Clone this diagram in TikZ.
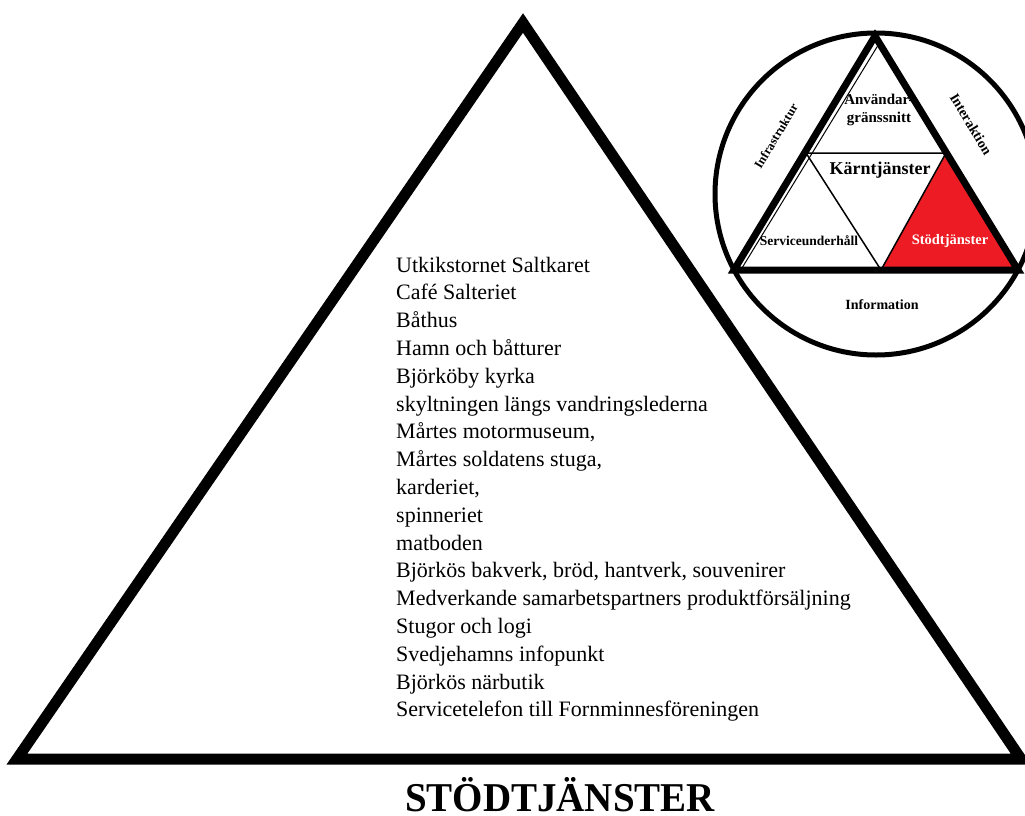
\documentclass[tikz,border=0pt]{standalone}
\usepackage{fontspec}
\setmainfont{Liberation Serif}
\usetikzlibrary{calc}
\definecolor{redfill}{RGB}{237,28,36}
\begin{document}
\begin{tikzpicture}[x=1pt,y=-1pt,
  bigtri/.style={line width=11pt, line join=miter},
  innertri/.style={line width=7pt, line join=miter},
  thinline/.style={line width=1.5pt},
  listitem/.style={anchor=base west, inner sep=0pt, font=\fontsize{22}{26}\selectfont},
  smalllbl/.style={inner sep=0pt, font=\bfseries\fontsize{#1}{#1}\selectfont},
  smalllbl/.default=14]
\useasboundingbox (0,0) rectangle (1025,816);
\fill[white] (0,0) rectangle (1025,816);
% big triangle
\coordinate (A) at (523,23);
\coordinate (BL) at (17,759);
\coordinate (BR) at (1021,759);
\draw[bigtri] (A) -- (BL) -- (BR) -- cycle;
% list
\foreach \t [count=\i from 0] in {Utkikstornet Saltkaret,Café Salteriet,Båthus,Hamn och båtturer,Björköby kyrka,skyltningen längs vandringslederna,Mårtes motormuseum{,},Mårtes soldatens stuga{,},karderiet{,},spinneriet,matboden,{Björkös bakverk, bröd, hantverk, souvenirer},Medverkande samarbetspartners produktförsäljning,Stugor och logi,Svedjehamns infopunkt,Björkös närbutik,Servicetelefon till Fornminnesföreningen}
  \node[listitem] (l\i) at (396,272+27.8*\i) {\t};
% title
\node[inner sep=0pt, font=\bfseries\fontsize{39}{39}\selectfont] (title) at (560,795) {\scalebox{1}[1.05]{STÖDTJÄNSTER}};
% circle emblem
\coordinate (C) at (876,194);
\draw[line width=5pt] (C) circle[radius=161];
\coordinate (T) at (875,36);
\coordinate (L) at (734,270);
\coordinate (R) at (1018,270);
\coordinate (IL) at (806,153);
\coordinate (IR) at (946,153);
\coordinate (IB) at (881,270);
\fill[redfill] (945,156) -- (IB) -- (1016,270) -- cycle;
\draw[thinline] (IL) -- (IR) -- (IB) -- cycle;
\draw[innertri] (T) -- (L) -- (R) -- cycle;
\draw[line width=1pt] ($(T)+(5,6)$) -- ($(L)+(8,-2)$);
% labels
\node[smalllbl=15, align=center] (anv) at (879,110) {Användar-\\[3pt]gränssnitt};
\node[smalllbl=18] (karn) at (880,170) {Kärntjänster};
\node[smalllbl=13.5] (serv) at (809,241) {Serviceunderhåll};
\node[smalllbl=14.5, text=white] (stod) at (950,241) {Stödtjänster};
\node[smalllbl=14] (info) at (882,305) {Information};
\node[smalllbl=12.5, rotate=59] (infra) at (776,136) {Infrastruktur};
\node[smalllbl=14, rotate=-59] (inter) at (971,124) {Interaktion};
\end{tikzpicture}
\end{document}
